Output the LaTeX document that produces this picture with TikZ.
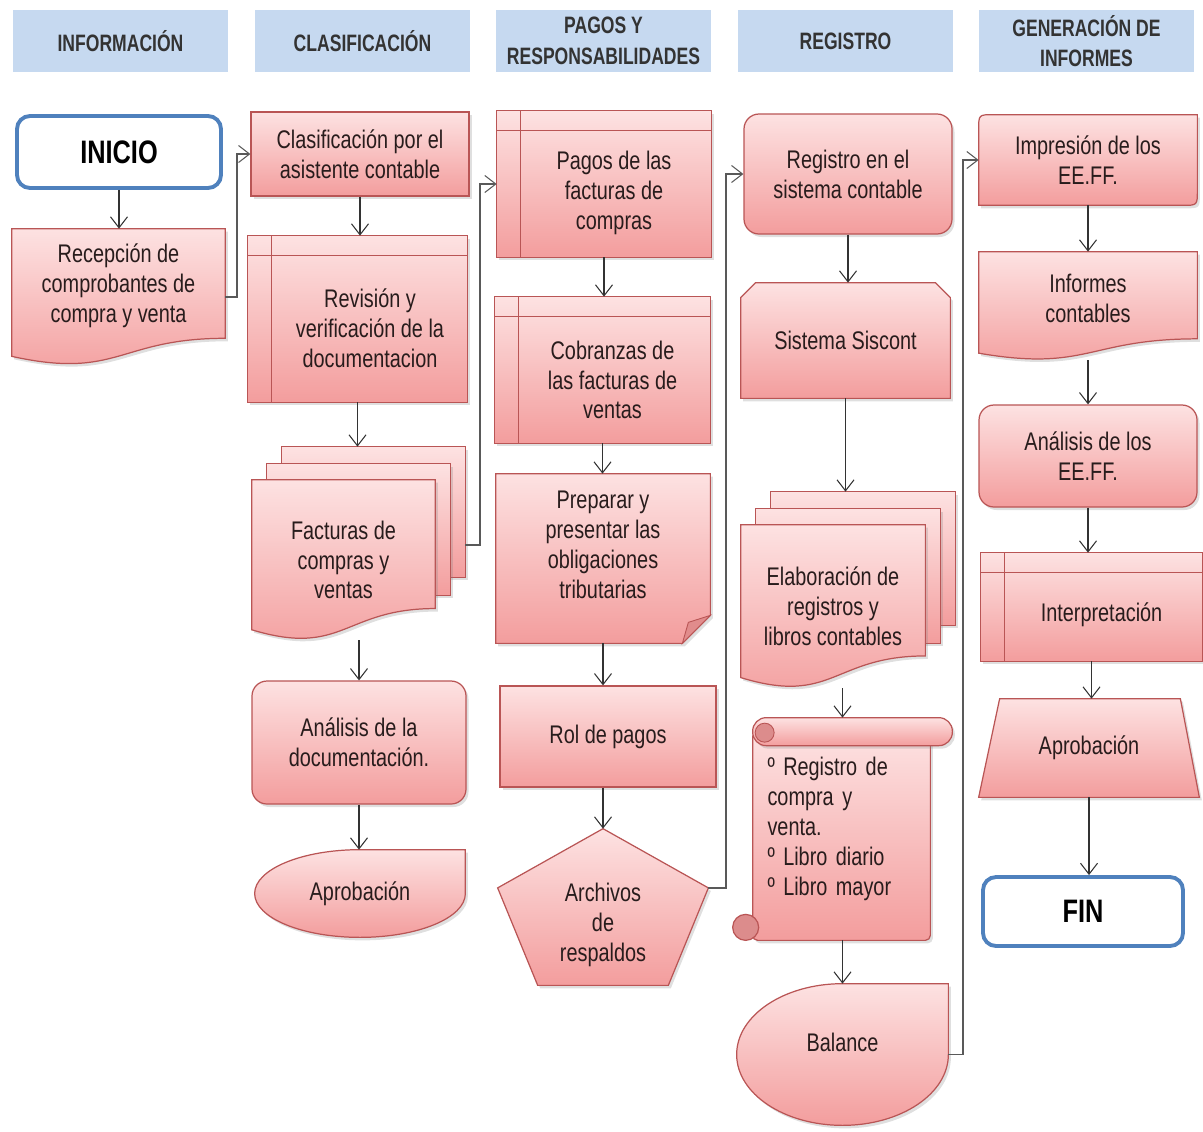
\documentclass[tikz,border=0pt]{standalone}
\usepackage{fontspec}
\setmainfont{Liberation Sans}[FakeStretch=0.78]
\newfontfamily\hdrfont{Liberation Sans}[FakeStretch=0.74]
\usetikzlibrary{arrows.meta, calc, backgrounds, shadows}
\definecolor{pinktop}{RGB}{253,226,226}
\definecolor{pinkbot}{RGB}{243,157,157}
\definecolor{pinkline}{RGB}{185,85,85}
\definecolor{fold}{RGB}{225,140,140}
\definecolor{curl}{RGB}{220,140,140}
\definecolor{hdrblue}{RGB}{198,217,240}
\definecolor{hdrtext}{RGB}{51,51,51}
\definecolor{termblue}{RGB}{79,129,189}
\definecolor{txt}{RGB}{40,28,28}
\tikzset{every node/.style={font=\fontsize{14.5}{17}\selectfont, text=txt, align=center},
  hdr/.style={fill=hdrblue, minimum width=43mm, minimum height=12.4mm, inner sep=1pt, text=hdrtext, font=\hdrfont\bfseries\fontsize{13.5}{17.5}\selectfont},
  term/.style={draw=termblue, line width=2.2pt, fill=white, rounded corners=2.6mm, text=black, font=\bfseries\fontsize{18.5}{20}\selectfont},
  pink/.style={draw=pinkline, line width=0.7pt, top color=pinktop, bottom color=pinkbot, drop shadow={shadow xshift=0.5mm, shadow yshift=-0.6mm, opacity=0.25}},
  box/.style={inner sep=2pt},
  flow/.style={draw=black!80, line width=0.6pt, -{Straight Barb[length=2.2mm, width=3.4mm, line width=0.6pt]}},
  link/.style={flow, draw=black!65, line width=1.1pt}}
% outlines drawn round the named boxes
\newcommand\flowdoc[1]{\path[pink] (#1.north west) -- (#1.north east) -- ($(#1.north east)!0.802!(#1.south east)$) .. controls ($(#1.north)!0.802!(#1.south)$) and ($(#1.north)!1.107!(#1.south)$) .. ($(#1.north west)!0.934!(#1.south west)$) -- cycle;}
\newcommand\flowstack[1]{%
  \path[pink] ($(#1.north west)+(30,-33)$) rectangle ($(#1.south east)+(30,-63)$);
  \path[pink] ($(#1.north west)+(15,-16)$) rectangle ($(#1.south east)+(15,-45)$);
  \flowdoc{#1}}
\newcommand\flowstore[1]{%
  \path[pink] (#1.north west) rectangle (#1.south east);
  \draw[pinkline, line width=0.5pt] ($(#1.north west)+(24,0)$) -- ($(#1.south west)+(24,0)$)
    ($(#1.north west)+(0,20)$) -- ($(#1.north east)+(0,20)$);}
\newcommand\flowdrop[1]{\path[pink] (#1.north) -- (#1.north east) -- (#1.east) .. controls ($(#1.east)!0.5523!(#1.south east)$) and ($(#1.south)!0.5523!(#1.south east)$) .. (#1.south) .. controls ($(#1.south)!0.5523!(#1.south west)$) and ($(#1.west)!0.5523!(#1.south west)$) .. (#1.west) .. controls ($(#1.west)!0.5523!(#1.north west)$) and ($(#1.north)!0.5523!(#1.north west)$) .. (#1.north) -- cycle;}

\begin{document}
\begin{tikzpicture}[x=0.2mm, y=-0.2mm]
\useasboundingbox (0,0) rectangle (1203,1131);

% column headers
\node[hdr] (hinfo) at (120.5,41) {INFORMACIÓN};
\node[hdr] (hclas) at (362.5,41) {CLASIFICACIÓN};
\node[hdr] (hpag) at (603.5,41) {PAGOS Y\\RESPONSABILIDADES};
\node[hdr] (hreg) at (845.5,41) {REGISTRO};
\node[hdr] (hgen) at (1086.5,41) {GENERACIÓN DE\\INFORMES};

% informacion
\node[term, minimum width=40.8mm, minimum height=14.4mm] (inicio) at (119,152) {INICIO};
\node[box, minimum width=42.6mm, minimum height=27.2mm, label={[yshift=2.2mm]center:Recepción de\\comprobantes de\\compra y venta}] (recep) at (118.5,297) {};

% clasificacion
\node[pink, minimum width=43.6mm, minimum height=16.8mm] (clasif) at (360,154) {Clasificación por el\\asistente contable};
\node[box, minimum width=43.8mm, minimum height=33.2mm, label={[xshift=2.5mm, yshift=-1.8mm]center:Revisión y\\verificación de la\\documentacion}] (revis) at (357.5,319) {};
\node[box, minimum width=36.6mm, minimum height=32mm] (fact) at (343.5,560) {Facturas de\\compras y\\ventas};
\node[pink, rounded corners=3mm, minimum width=42.8mm, minimum height=24.6mm] (anal) at (359,742.5) {Análisis de la\\documentación.};
\node[box, minimum width=42mm, minimum height=17.4mm] (aprob1) at (360,893.5) {Aprobación};

% pagos y responsabilidades
\node[box, minimum width=42.8mm, minimum height=29.2mm, label={[xshift=2mm, yshift=-1.8mm]center:Pagos de las\\facturas de\\compras}] (pagos) at (604,184) {};
\node[box, minimum width=43mm, minimum height=29.2mm, label={[xshift=2mm, yshift=-2mm]center:Cobranzas de\\las facturas de\\ventas}] (cobr) at (602.5,370) {};
\node[box, minimum width=42.8mm, minimum height=33.8mm, label={[yshift=2.7mm]center:Preparar y\\presentar las\\obligaciones\\tributarias}] (prep) at (603,558.5) {};
\node[pink, minimum width=43.2mm, minimum height=20.2mm] (rol) at (608,736.5) {Rol de pagos};
\node[box, minimum width=42mm, minimum height=31.2mm, label={[yshift=-3.6mm]center:Archivos\\de\\respaldos}] (arch) at (603,907) {};

% registro
\node[pink, rounded corners=3mm, minimum width=41.6mm, minimum height=24mm] (regis) at (848,174) {Registro en el\\sistema contable};
\node[box, minimum width=41.8mm, minimum height=23mm] (sisc) at (845.5,340.5) {Sistema Siscont};
\node[box, minimum width=36.8mm, minimum height=32.6mm] (elab) at (833,606.5) {Elaboración de\\registros y\\libros contables};
\node[box, minimum width=43.8mm, minimum height=44.4mm, text width=30mm, align=left] (scroll) at (842.5,829) {º Registro de\\compra y\\venta.\\º Libro diario\\º Libro mayor};
\node[box, minimum width=42.2mm, minimum height=28.2mm, label={[yshift=2.5mm]center:Balance}] (bal) at (842.5,1054.5) {};

% generacion de informes
\node[box, minimum width=43.6mm, minimum height=18mm] (impr) at (1088,160) {Impresión de los\\EE.FF.};
\node[box, minimum width=43.6mm, minimum height=21.6mm, label={[yshift=1.6mm]center:Informes\\contables}] (infor) at (1088,306) {};
\node[pink, rounded corners=3mm, minimum width=43.6mm, minimum height=20.4mm] (analee) at (1088,456) {Análisis de los\\EE.FF.};
\node[box, minimum width=44.2mm, minimum height=21.6mm, label={[xshift=2mm, yshift=-1.6mm]center:Interpretación}] (interp) at (1091.5,607) {};
\node[box, minimum width=44mm, minimum height=19.6mm] (aprob2) at (1089,748) {Aprobación};
\node[term, minimum width=40mm, minimum height=13.8mm] (fin) at (1083,911.5) {FIN};

\begin{pgfonlayer}{background}
  \flowdoc{recep}
  \flowstore{revis}
  \flowstack{fact}
  \flowdrop{aprob1}
  \flowstore{pagos}
  \flowstore{cobr}
  % folded corner
  \path[pink] (prep.north west) -- (prep.north east) -- ($(prep.south east)+(0,-28)$) -- ($(prep.south east)+(-28,0)$) -- (prep.south west) -- cycle;
  \path[draw=pinkline, line width=0.5pt, fill=fold] ($(prep.south east)+(-28,0)$) -- ($(prep.south east)+(-22,-21)$) -- ($(prep.south east)+(0,-28)$) -- cycle;
  % pentagon
  \path[pink] (arch.north) -- ($(arch.north east)!0.378!(arch.south east)$) -- ($(arch.south west)!0.81!(arch.south east)$) -- ($(arch.south west)!0.19!(arch.south east)$) -- ($(arch.north west)!0.378!(arch.south west)$) -- cycle;
  % snipped corners
  \path[pink] (sisc.south west) -- ($(sisc.north west)+(0,15)$) -- ($(sisc.north west)+(15,0)$) -- ($(sisc.north east)+(-15,0)$) -- ($(sisc.north east)+(0,15)$) -- (sisc.south east) -- cycle;
  \flowstack{elab}
  % scroll
  \path[pink, rounded corners=1mm] ($(scroll.north west)+(20,14)$) rectangle ($(scroll.south east)+(-22,0)$);
  \path[draw=pinkline, line width=0.7pt, fill=curl] ($(scroll.south west)+(13,-13)$) circle[radius=2.6mm];
  \path[pink, rounded corners=2.7mm] ($(scroll.north west)+(20,0)$) rectangle ($(scroll.north east)+(0,28)$);
  \path[draw=pinkline, line width=0.5pt, fill=curl] ($(scroll.north west)+(32,15)$) circle[radius=1.9mm];
  \flowdrop{bal}
  % round diagonal corners
  \path[pink] (impr.south west) -- ($(impr.north west)+(0,15)$) .. controls (impr.north west) .. ($(impr.north west)+(15,0)$) -- (impr.north east) -- ($(impr.south east)+(0,-15)$) .. controls (impr.south east) .. ($(impr.south east)+(-15,0)$) -- cycle;
  \flowdoc{infor}
  \flowstore{interp}
  \path[pink] (aprob2.south west) -- ($(aprob2.north west)+(21,0)$) -- ($(aprob2.north east)+(-19,0)$) -- (aprob2.south east) -- cycle;
\end{pgfonlayer}

% connectors
\draw[flow] (inicio) -- (inicio |- recep.north);
\draw[link] (recep.east) -- ++(12,0) |- (clasif);
\draw[flow] (clasif) -- (clasif |- revis.north);
\draw[flow] (revis) -- ($(revis.south |- fact.north)+(0,-33)$);
\draw[flow] (fact.south -| anal) -- (anal);
\draw[flow] (anal) -- (anal |- aprob1.north);
\draw[link] ($(fact.east)+(30,-15)$) -- ++(15,0) |- (pagos);
\draw[flow] (pagos) -- (pagos |- cobr.north);
\draw[flow] (cobr) -- (cobr |- prep.north);
\draw[flow] (prep) -- (prep |- rol.north);
\draw[flow] (rol.south -| arch) -- (arch);
\draw[link] ($(arch.north east)!0.378!(arch.south east)$) -- ++(18,0) |- (regis);
\draw[flow] (regis) -- (regis |- sisc.north);
\draw[flow] (sisc) -- ($(sisc.south |- elab.north)+(0,-33)$);
\draw[flow] (elab.south -| scroll) -- (scroll);
\draw[flow] (scroll) -- (scroll |- bal.north);
\draw[link] (bal.east) -- ++(15,0) |- (impr);
\draw[flow] (impr) -- (impr |- infor.north);
\draw[flow] (infor) -- (infor |- analee.north);
\draw[flow] (analee) -- (analee |- interp.north);
\draw[flow] (interp) -- (interp |- aprob2.north);
\draw[flow] (aprob2) -- (aprob2 |- fin.north);
\end{tikzpicture}
\end{document}
